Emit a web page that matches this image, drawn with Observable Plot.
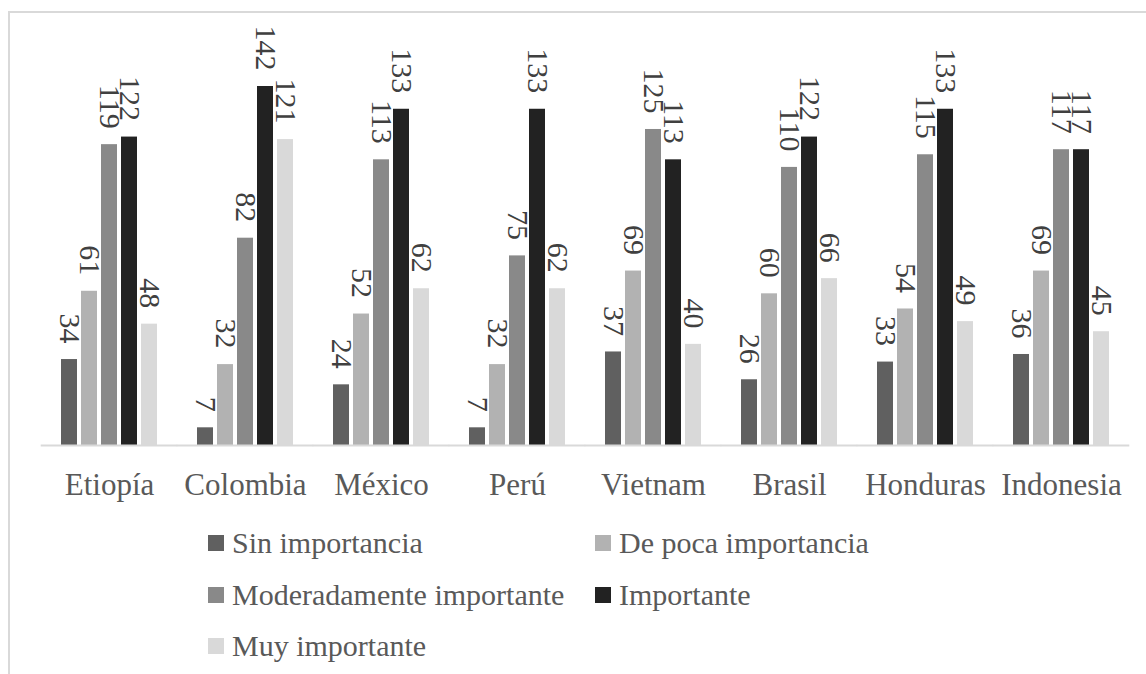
<!DOCTYPE html>
<html>
<head>
<meta charset="utf-8">
<script src="https://cdn.jsdelivr.net/npm/d3@7"></script>
<script src="https://cdn.jsdelivr.net/npm/@observablehq/plot@0.6"></script>
<style>
  html, body { margin: 0; padding: 0; background: #fff; width: 1146px; height: 674px; overflow: hidden; }
  #frame { position: absolute; left: 8px; top: 11px; width: 1200px; height: 700px;
           border-left: 2px solid #d9d9d9; border-top: 2px solid #d9d9d9; }
  #chart { position: absolute; left: 0; top: 0; }
  .leg { position: absolute; display: flex; align-items: center; font-family: 'Liberation Serif', 'Tinos', 'Nimbus Roman', 'DejaVu Serif', serif;
         font-size: 30px; color: #595959; white-space: nowrap; height: 40px; }
  .leg .sw { width: 16px; height: 16px; margin-right: 8px; }
</style>
</head>
<body>
<div id="frame"></div>
<div id="chart"></div>
<div id="legend"></div>
<script>
const countries = ["Etiopía", "Colombia", "México", "Perú", "Vietnam", "Brasil", "Honduras", "Indonesia"];
const series = ["Sin importancia", "De poca importancia", "Moderadamente importante", "Importante", "Muy importante"];
const sinImportancia = [34, 7, 24, 7, 37, 26, 33, 36];
const dePocaImportancia = [61, 32, 52, 32, 69, 60, 54, 69];
const moderadamenteImportante = [119, 82, 113, 75, 125, 110, 115, 117];
const importante = [122, 142, 133, 133, 113, 122, 133, 117];
const muyImportante = [48, 121, 62, 62, 40, 66, 49, 45];
const colors = ["#606060", "#b2b2b2", "#898989", "#222222", "#d9d9d9"];

const seriesValues = [sinImportancia, dePocaImportancia, moderadamenteImportante, importante, muyImportante];
const data = [];
countries.forEach((c, i) => {
  series.forEach((s, j) => data.push({country: c, series: s, value: seriesValues[j][i]}));
});

const serif = "'Liberation Serif', 'Tinos', 'Nimbus Roman', 'DejaVu Serif', serif";

const chart = Plot.plot({
  width: 1146,
  height: 520,
  marginLeft: 38,
  marginRight: 14,
  marginTop: 40.5,
  marginBottom: 75,
  style: {fontFamily: serif, background: "transparent", overflow: "visible"},
  fx: {domain: countries, paddingInner: 0.266, paddingOuter: 0.137, axis: null, label: null},
  x: {domain: series, paddingInner: 0.22, paddingOuter: 0, axis: null},
  y: {domain: [0, 160], axis: null},
  color: {domain: series, range: colors},
  marks: [
    Plot.barY(data, {fx: "country", x: "series", y: "value", fill: "series"}),
    Plot.ruleY([0], {stroke: "#d9d9d9", strokeWidth: 2, insetLeft: -18.3, insetRight: -18.3}),
    Plot.text(data, {fx: "country", x: "series", y: "value", text: d => String(d.value),
      rotate: 90, textAnchor: "end", lineAnchor: "middle", dy: -16,
      fontSize: 30, fill: "#404040", fontFamily: serif}),
    Plot.text(countries, {fx: d => d, text: d => d, frameAnchor: "bottom", lineAnchor: "top",
      dy: 27, fontSize: 31, fill: "#595959", fontFamily: serif})
  ]
});
document.getElementById("chart").appendChild(chart);

// Legend (HTML), entries from the series/colors arrays
const legendPos = [
  {sx: 208, ty: 543},
  {sx: 595, ty: 543},
  {sx: 208, ty: 595},
  {sx: 595, ty: 595},
  {sx: 208, ty: 646}
];
const legend = document.getElementById("legend");
series.forEach((s, i) => {
  const el = document.createElement("div");
  el.className = "leg";
  el.style.left = legendPos[i].sx + "px";
  el.style.top = (legendPos[i].ty - 20) + "px";
  const sw = document.createElement("span");
  sw.className = "sw";
  sw.style.background = colors[i];
  const tx = document.createElement("span");
  tx.textContent = s;
  el.appendChild(sw);
  el.appendChild(tx);
  legend.appendChild(el);
});
</script>
</body>
</html>
